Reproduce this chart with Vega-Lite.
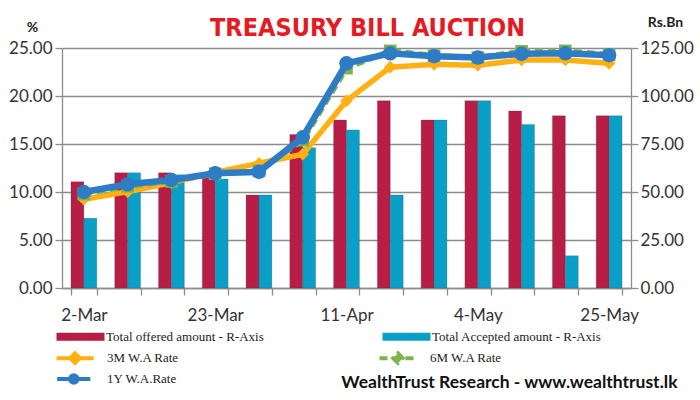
{
  "$schema": "https://vega.github.io/schema/vega-lite/v6.json",
  "width": 569,
  "height": 240,
  "autosize": {"type": "none"},
  "padding": {"left": 62, "top": 48, "right": 69, "bottom": 112},
  "background": "white",
  "title": {
    "text": "TREASURY BILL AUCTION",
    "anchor": "middle",
    "dx": 21,
    "offset": -26,
    "fontSize": 25,
    "font": "Liberation Sans Narrow, Arial Narrow, DejaVu Sans Condensed, Roboto Condensed, Roboto, sans-serif",
    "fontWeight": "bold",
    "color": "#E31B23"
  },
  "config": {
    "view": {"stroke": null},
    "axis": {
      "labelFont": "Lato",
      "labelFontSize": 17,
      "labelColor": "#333333",
      "domainColor": "#8c8c8c",
      "tickColor": "#8c8c8c",
      "gridColor": "#8c8c8c",
      "tickSize": 7,
      "domainWidth": 1.3,
      "tickWidth": 1.3,
      "gridWidth": 1.3
    },
    "legend": {
      "labelFont": "Liberation Serif",
      "labelFontSize": 13,
      "labelColor": "#222222",
      "labelLimit": 400
    }
  },
  "datasets": {
    "amounts": [
      {"date": "2-Mar", "series": "Total offered amount - R-Axis", "value": 55.4},
      {"date": "9-Mar", "series": "Total offered amount - R-Axis", "value": 60.0},
      {"date": "16-Mar", "series": "Total offered amount - R-Axis", "value": 60.0},
      {"date": "23-Mar", "series": "Total offered amount - R-Axis", "value": 57.5},
      {"date": "30-Mar", "series": "Total offered amount - R-Axis", "value": 48.4},
      {"date": "6-Apr", "series": "Total offered amount - R-Axis", "value": 80.0},
      {"date": "11-Apr", "series": "Total offered amount - R-Axis", "value": 87.5},
      {"date": "20-Apr", "series": "Total offered amount - R-Axis", "value": 97.5},
      {"date": "27-Apr", "series": "Total offered amount - R-Axis", "value": 87.5},
      {"date": "4-May", "series": "Total offered amount - R-Axis", "value": 97.5},
      {"date": "11-May", "series": "Total offered amount - R-Axis", "value": 92.2},
      {"date": "18-May", "series": "Total offered amount - R-Axis", "value": 89.7},
      {"date": "25-May", "series": "Total offered amount - R-Axis", "value": 89.7},
      {"date": "2-Mar", "series": "Total Accepted amount - R-Axis", "value": 36.3},
      {"date": "9-Mar", "series": "Total Accepted amount - R-Axis", "value": 60.0},
      {"date": "16-Mar", "series": "Total Accepted amount - R-Axis", "value": 59.0},
      {"date": "23-Mar", "series": "Total Accepted amount - R-Axis", "value": 56.8},
      {"date": "30-Mar", "series": "Total Accepted amount - R-Axis", "value": 48.4},
      {"date": "6-Apr", "series": "Total Accepted amount - R-Axis", "value": 73.1},
      {"date": "11-Apr", "series": "Total Accepted amount - R-Axis", "value": 82.3},
      {"date": "20-Apr", "series": "Total Accepted amount - R-Axis", "value": 48.4},
      {"date": "27-Apr", "series": "Total Accepted amount - R-Axis", "value": 87.5},
      {"date": "4-May", "series": "Total Accepted amount - R-Axis", "value": 97.5},
      {"date": "11-May", "series": "Total Accepted amount - R-Axis", "value": 85.2},
      {"date": "18-May", "series": "Total Accepted amount - R-Axis", "value": 16.8},
      {"date": "25-May", "series": "Total Accepted amount - R-Axis", "value": 89.7}
    ],
    "rates": [
      {"date": "2-Mar", "series": "3M W.A Rate", "rate": 9.24},
      {"date": "9-Mar", "series": "3M W.A Rate", "rate": 10.03},
      {"date": "16-Mar", "series": "3M W.A Rate", "rate": 10.97},
      {"date": "23-Mar", "series": "3M W.A Rate", "rate": 12.05},
      {"date": "30-Mar", "series": "3M W.A Rate", "rate": 12.99},
      {"date": "6-Apr", "series": "3M W.A Rate", "rate": 13.93},
      {"date": "11-Apr", "series": "3M W.A Rate", "rate": 19.5},
      {"date": "20-Apr", "series": "3M W.A Rate", "rate": 23.0},
      {"date": "27-Apr", "series": "3M W.A Rate", "rate": 23.3},
      {"date": "4-May", "series": "3M W.A Rate", "rate": 23.2},
      {"date": "11-May", "series": "3M W.A Rate", "rate": 23.75},
      {"date": "18-May", "series": "3M W.A Rate", "rate": 23.75},
      {"date": "25-May", "series": "3M W.A Rate", "rate": 23.4},
      {"date": "2-Mar", "series": "6M W.A Rate", "rate": 9.8},
      {"date": "9-Mar", "series": "6M W.A Rate", "rate": 10.6},
      {"date": "16-Mar", "series": "6M W.A Rate", "rate": 11.1},
      {"date": "23-Mar", "series": "6M W.A Rate", "rate": 11.9},
      {"date": "30-Mar", "series": "6M W.A Rate", "rate": 12.2},
      {"date": "6-Apr", "series": "6M W.A Rate", "rate": 15.4},
      {"date": "11-Apr", "series": "6M W.A Rate", "rate": 22.9},
      {"date": "20-Apr", "series": "6M W.A Rate", "rate": 24.7},
      {"date": "27-Apr", "series": "6M W.A Rate", "rate": 24.2},
      {"date": "4-May", "series": "6M W.A Rate", "rate": 24.0},
      {"date": "11-May", "series": "6M W.A Rate", "rate": 24.65},
      {"date": "18-May", "series": "6M W.A Rate", "rate": 24.7},
      {"date": "25-May", "series": "6M W.A Rate", "rate": 24.3},
      {"date": "2-Mar", "series": "1Y W.A.Rate", "rate": 10.0},
      {"date": "9-Mar", "series": "1Y W.A.Rate", "rate": 10.8},
      {"date": "16-Mar", "series": "1Y W.A.Rate", "rate": 11.25},
      {"date": "23-Mar", "series": "1Y W.A.Rate", "rate": 11.95},
      {"date": "30-Mar", "series": "1Y W.A.Rate", "rate": 12.1},
      {"date": "6-Apr", "series": "1Y W.A.Rate", "rate": 15.7},
      {"date": "11-Apr", "series": "1Y W.A.Rate", "rate": 23.4},
      {"date": "20-Apr", "series": "1Y W.A.Rate", "rate": 24.45},
      {"date": "27-Apr", "series": "1Y W.A.Rate", "rate": 24.15},
      {"date": "4-May", "series": "1Y W.A.Rate", "rate": 24.0},
      {"date": "11-May", "series": "1Y W.A.Rate", "rate": 24.4},
      {"date": "18-May", "series": "1Y W.A.Rate", "rate": 24.45},
      {"date": "25-May", "series": "1Y W.A.Rate", "rate": 24.25}
    ]
  },
  "encoding": {
    "x": {
      "field": "date",
      "type": "nominal",
      "sort": ["2-Mar", "9-Mar", "16-Mar", "23-Mar", "30-Mar", "6-Apr", "11-Apr", "20-Apr", "27-Apr", "4-May", "11-May", "18-May", "25-May"],
      "scale": {"paddingInner": 0.41, "paddingOuter": 0.205},
      "axis": {
        "tickBand": "extent",
        "labelAngle": 0,
        "labelOverlap": false,
        "labelPadding": 12,
        "labelExpr": "indexof(['2-Mar','23-Mar','11-Apr','4-May','25-May'], datum.value) >= 0 ? datum.value : ''",
        "title": "WealthTrust Research - www.wealthtrust.lk",
        "titleX": 615,
        "titleY": 99,
        "titleAlign": "right",
        "titleBaseline": "alphabetic",
        "titleAnchor": null,
        "titleFont": "Lato",
        "titleFontSize": 17.5,
        "titleFontWeight": "bold",
        "titleColor": "#111111"
      }
    }
  },
  "layer": [
    {
      "data": {"name": "amounts"},
      "mark": {"type": "bar", "stroke": "#2a4a5a", "strokeWidth": 0.4, "strokeOpacity": 0.6},
      "encoding": {
        "xOffset": {"field": "series", "sort": ["Total offered amount - R-Axis", "Total Accepted amount - R-Axis"]},
        "y": {
          "field": "value",
          "type": "quantitative",
          "scale": {"domain": [0, 125]},
          "axis": {
            "orient": "right",
            "values": [0, 25, 50, 75, 100, 125],
            "format": ".2f",
            "grid": false,
            "labelPadding": 2,
            "title": "Rs.Bn",
            "titleAngle": 0,
            "titleX": 34,
            "titleY": -22,
            "titleAlign": "center",
            "titleBaseline": "alphabetic",
            "titleFont": "Lato",
            "titleFontSize": 14,
            "titleFontWeight": "bold",
            "titleColor": "#222222"
          }
        },
        "color": {
          "field": "series",
          "type": "nominal",
          "scale": {
            "domain": ["Total offered amount - R-Axis", "Total Accepted amount - R-Axis"],
            "range": ["#B81D45", "#0A9FC6"]
          },
          "legend": {
            "orient": "none",
            "legendX": -7,
            "legendY": 282,
            "direction": "horizontal",
            "columns": 2,
            "columnPadding": 117,
            "title": null,
            "symbolType": "M-1,-0.8H8.6V0.8H-1Z",
            "symbolSize": 100,
            "symbolStrokeWidth": 0,
            "labelOffset": 38
          }
        }
      }
    },
    {
      "data": {"name": "rates"},
      "encoding": {
        "y": {
          "field": "rate",
          "type": "quantitative",
          "scale": {"domain": [0, 25]},
          "axis": {
            "orient": "left",
            "values": [0, 5, 10, 15, 20, 25],
            "format": ".2f",
            "grid": true,
            "labelPadding": 3,
            "title": "%",
            "titleAngle": 0,
            "titleX": -30,
            "titleY": -17,
            "titleAlign": "center",
            "titleBaseline": "alphabetic",
            "titleFont": "Lato",
            "titleFontSize": 14,
            "titleFontWeight": "bold",
            "titleColor": "#222222"
          }
        }
      },
      "layer": [
        {
          "encoding": {
            "color": {
              "field": "series",
              "type": "nominal",
              "scale": {
                "domain": ["3M W.A Rate", "6M W.A Rate"],
                "range": ["#FFB012", "#7DB54B"]
              },
              "legend": {
                "orient": "none",
                "legendX": -7,
                "legendY": 303,
                "direction": "horizontal",
                "columns": 2,
                "columnPadding": 191,
                "title": null,
                "symbolType": "M-1.1,0H6.3M2.6,-0.95L3.55,0L2.6,0.95L1.65,0Z",
                "symbolSize": 100,
                "symbolStrokeWidth": 4,
                "labelOffset": 38
              }
            },
            "strokeDash": {
              "field": "series",
              "type": "nominal",
              "scale": {
                "domain": ["3M W.A Rate", "6M W.A Rate"],
                "range": [[1, 0], [8, 5]]
              }
            }
          },
          "layer": [
            {
              "transform": [{"filter": "datum.series === '3M W.A Rate'"}],
              "mark": {"type": "line", "strokeWidth": 5.5, "point": {"shape": "diamond", "size": 160, "filled": true}}
            },
            {
              "transform": [{"filter": "datum.series === '6M W.A Rate'"}],
              "mark": {"type": "line", "strokeWidth": 5.5, "point": {"shape": "square", "size": 160, "filled": true}}
            }
          ]
        },
        {
          "transform": [{"filter": "datum.series === '1Y W.A.Rate'"}],
          "mark": {"type": "line", "strokeWidth": 6.5, "point": {"shape": "circle", "size": 210, "filled": true}},
          "encoding": {
            "color": {
              "field": "series",
              "type": "nominal",
              "scale": {"domain": ["1Y W.A.Rate"], "range": ["#2E7CC6"]},
              "legend": {
                "orient": "none",
                "legendX": -7,
                "legendY": 324,
                "direction": "horizontal",
                "title": null,
                "symbolType": "M-0.97,0H5.66M1.6,0A0.75,0.75 0 1,0 3.1,0A0.75,0.75 0 1,0 1.6,0Z",
                "symbolSize": 100,
                "symbolStrokeWidth": 4,
                "labelOffset": 38
              }
            }
          }
        }
      ],
      "resolve": {"scale": {"color": "independent", "strokeDash": "independent"}}
    }
  ],
  "resolve": {"scale": {"y": "independent", "color": "independent", "strokeDash": "independent"}}
}
